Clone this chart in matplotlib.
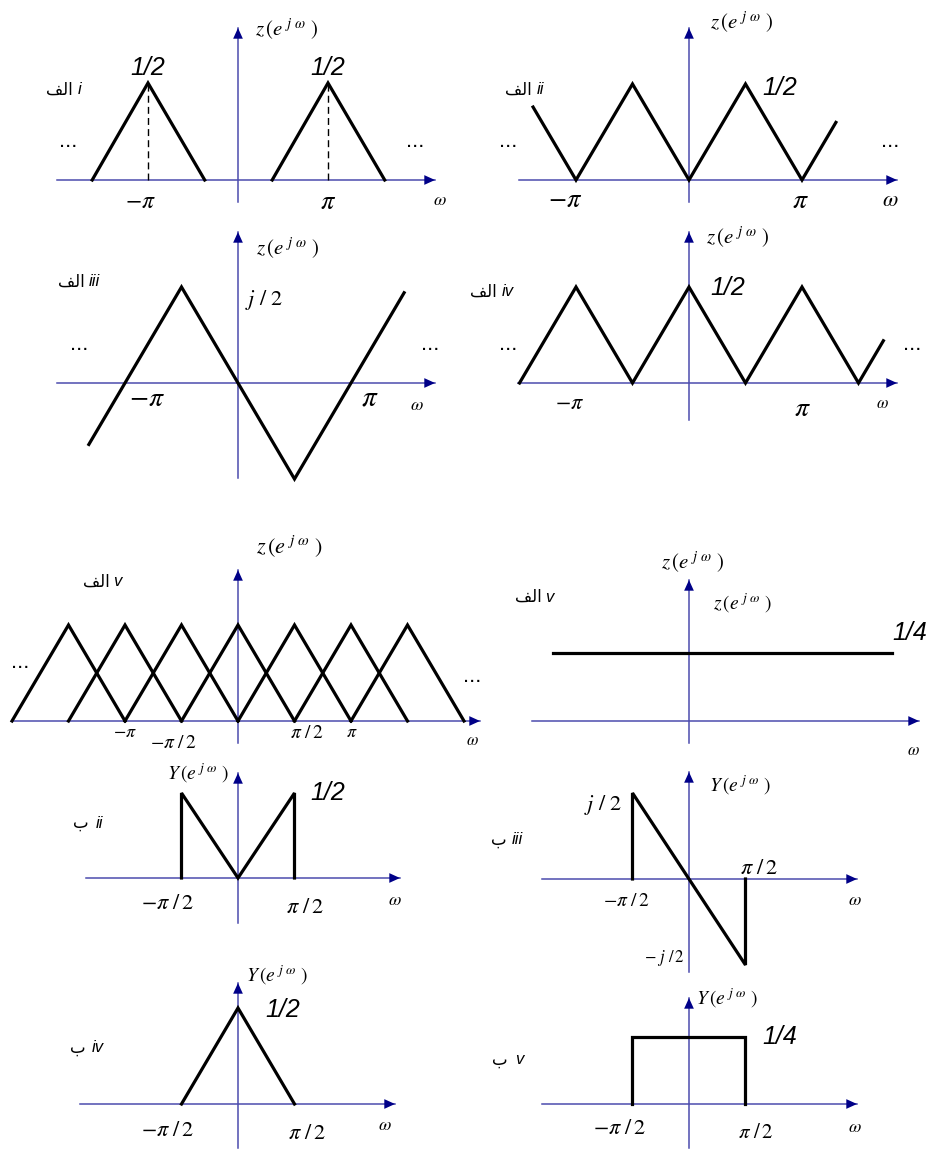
import matplotlib
matplotlib.use("Agg")
import matplotlib.pyplot as plt

W, H = 935, 1149

# ---- data: vertices as (omega / pi, amplitude) ----
# part a (الف)
ai_w = [[-1.62, -1, -0.37], [0.38, 1, 1.63]]
ai_z = [[0, 0.5, 0], [0, 0.5, 0]]
ai_dash_w = [-1, 1]
ai_peak = 0.5

aii_w = [-1.38, -1, -0.5, 0, 0.5, 1, 1.3]
aii_z = [0.38, 0, 0.5, 0, 0.5, 0, 0.3]

aiii_w = [-1.32, -0.5, 0.5, 1.47]
aiii_z = [-0.32, 0.5, -0.5, 0.47]

aiv_w = [-1.5, -1, -0.5, 0, 0.5, 1, 1.5, 1.72]
aiv_z = [0, 0.5, 0, 0.5, 0, 0.5, 0, 0.22]

av_centers = [-1.5, -1, -0.5, 0, 0.5, 1, 1.5]
av_half = 0.5
av_peak = 0.5

av2_w = [-1.2, 1.8]
av2_z = [0.25, 0.25]

# part b (ب)
bii_w = [-0.5, -0.5, 0, 0.5, 0.5]
bii_z = [0, 0.5, 0, 0.5, 0]

biii_w = [-0.5, -0.5, 0.5, 0.5]
biii_z = [0, 0.5, -0.5, 0]

biv_w = [-0.5, 0, 0.5]
biv_z = [0, 0.5, 0]

bv_w = [-0.5, -0.5, 0.5, 0.5]
bv_z = [0, 0.25, 0.25, 0]

# labels
ALEF = '\ufed2\ufedf\ufe8d'   # الف, shaped by hand, visual order
BEH = '\ufe8f'                # ب
Z = r'$z\,(e^{\ j\ \omega}\ )$'
Y = r'$Y\,(e^{\ j\ \omega}\ )$'
MPI = r'$-\pi$'
PI = r'$\pi$'
PI2 = r'$\pi\ /\,2$'
MPI2 = r'$-\pi\ /\,2$'
J2 = r'$j\ /\ 2$'
OM = r'$\omega$'

AX_COL = '#4c4cae'
HEAD_COL = '#000088'
LW = 2.3

plt.rcParams['mathtext.fontset'] = 'stix'
fig = plt.figure(figsize=(W / 100, H / 100), dpi=100)


def arrow(ax, start, tip):
    ax.plot([start[0], tip[0]], [start[1], tip[1]], color=AX_COL, lw=1.1, zorder=2)
    ax.annotate('', xy=tip, xytext=start, zorder=2,
                arrowprops=dict(arrowstyle='-|>,head_length=0.55,head_width=0.25',
                                color=HEAD_COL, lw=0, shrinkA=0, shrinkB=0,
                                mutation_scale=14))


def panel(ox, oy, sx, sy, xspan, yspan):
    """axes over whole figure, data origin sits at pixel (ox, oy)"""
    ax = fig.add_axes([0, 0, 1, 1])
    ax.set_xlim(-ox / sx, (W - ox) / sx)
    ax.set_ylim((oy - H) / sy, oy / sy)
    ax.axis('off')
    x0, x1 = [(p - ox) / sx for p in xspan]
    y0, y1 = [(oy - p) / sy for p in yspan]
    arrow(ax, (x0, 0), (x1, 0))
    arrow(ax, (0, y0), (0, y1))
    return ax


def curve(ax, w, z, **kw):
    ax.plot(w, z, color='black', lw=LW, solid_joinstyle='miter', zorder=3, **kw)


def put(x, y, s, size=12, ha='center', **kw):
    fig.text(x / W, 1 - y / H, s, size=size, ha=ha, va='center', **kw)


def val(x, y, s, size=18):
    put(x, y, s, size=size, family='Liberation Sans', style='italic')


def dots(x, y):
    put(x, y, '...', size=16, family='Liberation Sans')


def tag(xa, xr, y, arabic, roman):
    put(xa, y, arabic, size=12, ha='right', family='DejaVu Sans')
    put(xr, y, roman, size=12, ha='left', family='Liberation Sans', style='italic')


# ---- a-i ----
ax = panel(238, 180, 90, 194, (57, 435), (202, 28))
for w, z in zip(ai_w, ai_z):
    curve(ax, w, z)
for w in ai_dash_w:
    ax.plot([w, w], [0, ai_peak], color='black', lw=1.0, ls=(0, (5, 3)), zorder=3)
put(287, 29, Z, size=15)
val(148, 68, '1/2'); val(328, 68, '1/2')
put(140, 201, MPI, size=17); put(328, 202, PI, size=19)
put(440, 200, OM, size=13)
dots(68, 141); dots(415, 141)
tag(73, 78, 90, ALEF, 'i')

# ---- a-ii ----
ax = panel(689, 180, 113, 192, (519, 897), (202, 28))
curve(ax, aii_w, aii_z)
put(742, 22, Z, size=15)
val(780, 88, '1/2')
put(565, 200, MPI, size=19); put(800, 200, PI, size=20)
put(890, 200, OM, size=16)
dots(508, 141); dots(890, 141)
tag(532, 537, 90, ALEF, 'ii')

# ---- a-iii ----
ax = panel(238, 383, 113, 192, (57, 435), (478, 232))
curve(ax, aiii_w, aiii_z)
put(288, 248, Z, size=15)
put(264, 300, J2, size=16)
dots(79, 344); dots(430, 344)
put(147, 398, MPI, size=20); put(370, 398, PI, size=21)
put(417, 405, OM, size=13)
tag(85, 89, 282, ALEF, 'iii')

# ---- a-iv ----
ax = panel(689, 383, 113, 192, (518, 897), (420, 232))
curve(ax, aiv_w, aiv_z)
put(738, 237, Z, size=15)
val(728, 288, '1/2')
dots(508, 344); dots(912, 344)
put(570, 403, MPI, size=16); put(802, 408, PI, size=20)
put(882, 403, OM, size=12)
tag(497, 502, 292, ALEF, 'iv')

# ---- a-v (shifted copies) ----
ax = panel(238, 721, 113, 192, (13, 480), (743, 570))
for c in av_centers:
    curve(ax, [c - av_half, c, c + av_half], [0, av_peak, 0])
put(290, 547, Z, size=16)
dots(20, 662); dots(472, 677)
put(125, 732, MPI, size=13); put(173, 742, MPI2, size=14)
put(307, 732, PI2, size=14); put(352, 732, PI, size=13)
put(472, 740, OM, size=12)
tag(110, 113, 582, ALEF, 'v')

# ---- a-v (flat) ----
ax = panel(689, 721, 113, 272, (532, 919), (743, 580))
curve(ax, av2_w, av2_z)
put(693, 562, Z, size=15)
put(743, 603, Z, size=14)
val(910, 633, '1/4')
put(913, 750, OM, size=12)
tag(542, 545, 597, ALEF, 'v')

# ---- b-ii ----
ax = panel(238, 878, 113, 170, (86, 400), (923, 773))
curve(ax, bii_w, bii_z)
put(198, 773, Y, size=14)
val(328, 793, '1/2')
put(168, 903, MPI2, size=16); put(305, 907, PI2, size=16)
put(395, 900, OM, size=13)
tag(89, 96, 823, BEH, 'ii')

# ---- b-iii ----
ax = panel(689, 879, 113, 172, (542, 857), (972, 772))
curve(ax, biii_w, biii_z)
put(740, 785, Y, size=14)
put(603, 805, J2, size=16)
put(626, 901, MPI2, size=14); put(759, 868, PI2, size=16)
put(855, 900, OM, size=13)
put(685, 958, r'$-\ j\ /\,2$', size=12, ha='right')
tag(507, 512, 840, BEH, 'iii')

# ---- b-iv ----
ax = panel(238, 1104, 113, 192, (80, 395), (1148, 983))
curve(ax, biv_w, biv_z)
put(277, 975, Y, size=14)
val(283, 1010, '1/2')
put(168, 1130, MPI2, size=16); put(307, 1133, PI2, size=16)
put(385, 1125, OM, size=13)
tag(86, 92, 1048, BEH, 'iv')

# ---- b-v ----
ax = panel(689, 1104, 113, 268, (542, 857), (1148, 998))
curve(ax, bv_w, bv_z)
put(727, 998, Y, size=14)
val(780, 1037, '1/4')
put(620, 1128, MPI2, size=16); put(756, 1132, PI2, size=15)
put(855, 1127, OM, size=13)
tag(508, 515, 1060, BEH, 'v')

fig.savefig('out.png', dpi=100)
